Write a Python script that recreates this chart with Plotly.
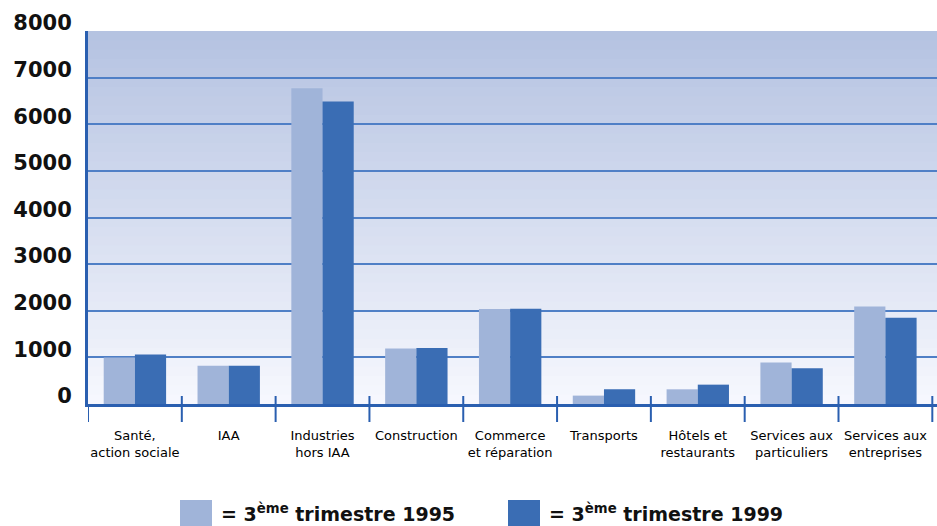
import plotly.graph_objects as go

categories = [
    "Santé,<br>action sociale", "IAA", "Industries<br>hors IAA", "Construction",
    "Commerce<br>et réparation", "Transports", "Hôtels et<br>restaurants",
    "Services aux<br>particuliers", "Services aux<br>entreprises",
]
values_1995 = [1000, 820, 6770, 1190, 2040, 180, 315, 890, 2090]
values_1999 = [1060, 820, 6490, 1200, 2045, 315, 415, 765, 1850]
series_names = ["= 3<sup>ème</sup> trimestre 1995", "= 3<sup>ème</sup> trimestre 1999"]
y_ticks = [0, 1000, 2000, 3000, 4000, 5000, 6000, 7000, 8000]

LIGHT = "#a0b4d9"
DARK = "#3a6db4"
AXIS = "#2a5fb0"
GRID = "#4f7fc6"

W, H = 937, 526
ML, MR, MT, MB = 88, 0, 31, 122
PW = W - ML - MR
PH = H - MT - MB

fig = go.Figure()
fig.add_trace(go.Bar(x=list(range(len(categories))), y=values_1995, name=series_names[0],
                     marker=dict(color=LIGHT, line=dict(width=0))))
fig.add_trace(go.Bar(x=list(range(len(categories))), y=values_1999, name=series_names[1],
                     marker=dict(color=DARK, line=dict(width=0))))

shapes = []
# background gradient bands
top = (180, 194, 225)
bot = (247, 248, 254)
nb = 40
ymax = y_ticks[-1]
for i in range(nb):
    t = (i + 0.5) / nb
    c = tuple(int(round(bot[k] + (top[k] - bot[k]) * t)) for k in range(3))
    shapes.append(dict(type="rect", xref="paper", yref="y", x0=0, x1=1,
                       y0=ymax * i / nb, y1=min(ymax, ymax * (i + 1) / nb + 40),
                       fillcolor="rgb(%d,%d,%d)" % c, line=dict(width=0), layer="below"))

def py(px):
    return (H - MB - px) / PH

def px_(x):
    return (x - ML) / PW

# category dividers
for i in range(len(categories) + 1):
    shapes.append(dict(type="line", xref="x", yref="paper", x0=i - 0.5, x1=i - 0.5,
                       y0=py(422), y1=py(396) if i > 0 else 0,
                       line=dict(color=AXIS, width=2), layer="above"))

# legend squares
shapes.append(dict(type="rect", xref="paper", yref="paper", x0=px_(180), x1=px_(212),
                   y0=py(526), y1=py(500), fillcolor=LIGHT, line=dict(width=0)))
shapes.append(dict(type="rect", xref="paper", yref="paper", x0=px_(508), x1=px_(540),
                   y0=py(526), y1=py(500), fillcolor=DARK, line=dict(width=0)))

annotations = [
    dict(xref="paper", yref="paper", x=px_(219), y=py(513), xanchor="left", yanchor="middle",
         text=series_names[0], showarrow=False,
         font=dict(family="DejaVu Sans", size=19, color="#111111", weight="bold")),
    dict(xref="paper", yref="paper", x=px_(547), y=py(513), xanchor="left", yanchor="middle",
         text=series_names[1], showarrow=False,
         font=dict(family="DejaVu Sans", size=19, color="#111111", weight="bold")),
]

fig.update_layout(
    width=W, height=H,
    margin=dict(l=ML, r=MR, t=MT, b=MB, pad=0),
    paper_bgcolor="white", plot_bgcolor="white",
    barmode="group", bargap=0.335, bargroupgap=0,
    showlegend=False,
    shapes=shapes, annotations=annotations,
    xaxis=dict(
        tickmode="array", tickvals=list(range(len(categories))), ticktext=categories,
        range=[-0.5, len(categories) - 0.45],
        showgrid=False, zeroline=False,
        showline=True, linecolor=AXIS, linewidth=3,
        ticks="outside", ticklen=17, tickcolor="rgba(0,0,0,0)",
        tickfont=dict(family="DejaVu Sans", size=13, color="#000000"),
        tickangle=0,
    ),
    yaxis=dict(
        range=[0, ymax], tickmode="array", tickvals=y_ticks,
        showgrid=True, gridcolor=GRID, gridwidth=1.5,
        zeroline=False,
        showline=True, linecolor=AXIS, linewidth=3,
        ticks="", ticklabelstandoff=9, ticklabelshift=-8,
        tickfont=dict(family="DejaVu Sans", size=21, color="#111111", weight="bold"),
    ),
)

fig.write_html(
    "out.html",
    config={"displayModeBar": False},
    post_script="document.body.style.margin='0';document.body.style.overflow='hidden';",
)
